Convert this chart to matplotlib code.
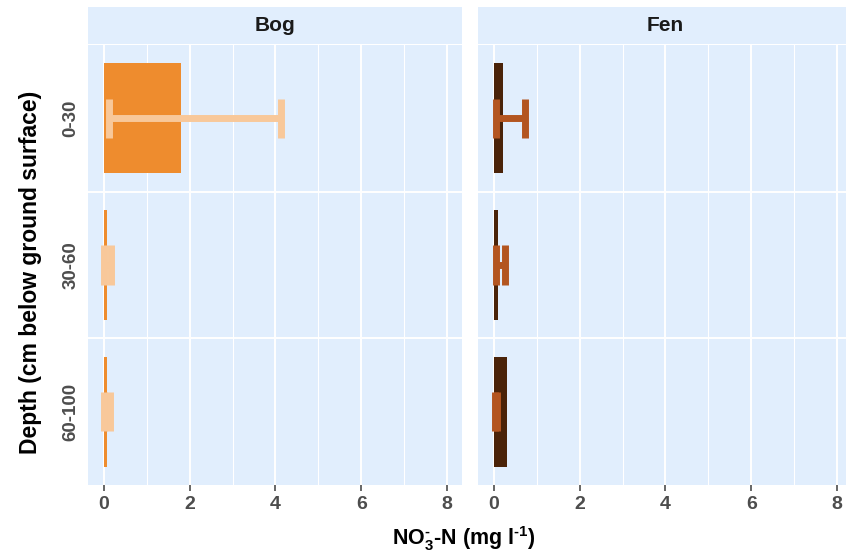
import numpy as np
import matplotlib.pyplot as plt

plt.rcParams['font.family'] = ['Liberation Sans', 'DejaVu Sans']
plt.rcParams['mathtext.fontset'] = 'custom'
plt.rcParams['mathtext.rm'] = 'Liberation Sans:bold'
plt.rcParams['mathtext.bf'] = 'Liberation Sans:bold'

# depth classes (top to bottom)
depths = ['0-30', '30-60', '60-100']

# mean NO3-N per depth (bar) and error bar ends
bog_mean = [1.79, 0.07, 0.07]
bog_lo = [0.13, 0.0, 0.0]
bog_hi = [4.12, 0.16, 0.14]

fen_mean = [0.22, 0.10, 0.30]
fen_lo = [0.05, 0.05, 0.02]
fen_hi = [0.72, 0.27, 0.08]

panels = [
    ('Bog', bog_mean, bog_lo, bog_hi, '#EE8C2E', '#F8C89A'),
    ('Fen', fen_mean, fen_lo, fen_hi, '#4A2309', '#B35520'),
]

bg = '#E1EEFD'
tick_col = '#4D4D4D'

fig = plt.figure(figsize=(8.46, 5.57), dpi=100)
W, H = 846, 557

ypos = np.arange(len(depths))

for i, (name, mean, lo, hi, bar_col, err_col) in enumerate(panels):
    left = 88 + i * 390
    ax = fig.add_axes([left / W, 1 - 485 / H, 374 / W, 440 / H])
    ax.set_facecolor(bg)
    for s in ax.spines.values():
        s.set_visible(False)

    ax.set_xlim(-0.37, 8.35)
    ax.set_ylim(2.5, -0.5)

    # grid
    for v in [1, 3, 5, 7]:
        ax.axvline(v, color='white', lw=0.8, zorder=0)
    for v in [0, 2, 4, 6, 8]:
        ax.axvline(v, color='white', lw=1.4, zorder=0)
    for v in [0.5, 1.5]:
        ax.axhline(v, color='white', lw=1.4, zorder=0)

    ax.barh(ypos, mean, height=0.75, color=bar_col, zorder=2)
    ax.hlines(ypos, lo, hi, color=err_col, lw=5, zorder=3)
    ax.vlines(lo, ypos - 0.135, ypos + 0.135, color=err_col, lw=5, zorder=3)
    ax.vlines(hi, ypos - 0.135, ypos + 0.135, color=err_col, lw=5, zorder=3)

    ax.set_xticks([0, 2, 4, 6, 8])
    ax.tick_params(axis='x', colors=tick_col, length=4, width=1.2, pad=4,
                   labelsize=14)
    for t in ax.get_xticklabels():
        t.set_fontweight('bold')
    ax.set_yticks(ypos)
    if i == 0:
        ax.set_yticklabels(depths, rotation=90, va='center', fontsize=13.5,
                           fontweight='bold', color=tick_col)
        ax.tick_params(axis='y', length=0, pad=6)
    else:
        ax.set_yticklabels([])
        ax.tick_params(axis='y', length=0)

    # facet strip
    sax = fig.add_axes([left / W, 1 - 44 / H, 374 / W, 37 / H])
    sax.set_facecolor(bg)
    sax.set_xticks([])
    sax.set_yticks([])
    for s in sax.spines.values():
        s.set_visible(False)
    sax.text(0.5, 0.5, name, ha='center', va='center', fontsize=15,
             fontweight='bold', color='#1A1A1A', transform=sax.transAxes)

fig.text(31 / W, 1 - 272 / H, 'Depth (cm below ground surface)', rotation=90,
         ha='center', va='center', fontsize=16.5, fontweight='bold')
fig.text(464 / W, 1 - 539 / H,
         r'NO$_\mathrm{3}^{\mathrm{\text{-}}}$-N (mg l$^{\text{-}\mathrm{1}}$)',
         ha='center', va='center', fontsize=15.5, fontweight='bold')

fig.savefig('out.png', dpi=100)
